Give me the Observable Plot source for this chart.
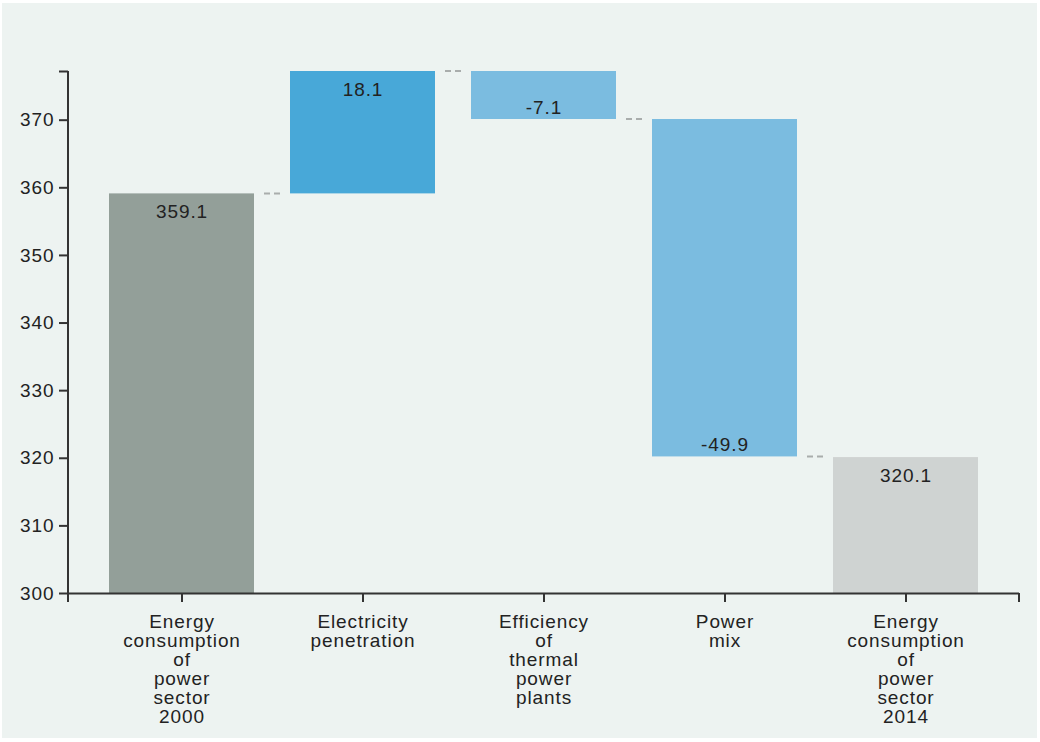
<!DOCTYPE html>
<html>
<head>
<meta charset="utf-8">
<script src="https://cdn.jsdelivr.net/npm/d3@7"></script>
<script src="https://cdn.jsdelivr.net/npm/@observablehq/plot@0.6"></script>
<style>
  html, body { margin: 0; padding: 0; background: #ffffff; }
  #frame { position: absolute; left: 2px; top: 3px; width: 1035px; height: 735px; background: #edf3f1; }
  #frame svg { display: block; }
</style>
</head>
<body>
<div id="frame"></div>
<script>
// ---- data ----
const categories = [
  "Energy consumption of power sector 2000",
  "Electricity penetration",
  "Efficiency of thermal power plants",
  "Power mix",
  "Energy consumption of power sector 2014"
];
const values = [359.1, 18.1, -7.1, -49.9, 320.1];
const kinds = ["total2000", "increase", "decrease", "decrease", "total2014"];
const kindDomain = ["total2000", "increase", "decrease", "total2014"];
const kindColors = ["#939f99", "#48a8d8", "#7bbce0", "#cfd3d2"];
const yTicks = [300, 310, 320, 330, 340, 350, 360, 370];
const yMin = 300;

// ---- waterfall steps (cumulative) ----
let running = 0;
const steps = categories.map((name, i) => {
  const v = values[i];
  let start, end;
  if (kinds[i].startsWith("total")) { start = yMin; end = v; running = v; }
  else { start = running; end = running + v; running = end; }
  return { name, value: v, kind: kinds[i], start, end };
});
const yMax = d3.max(steps, d => d.end);

const ns = "http://www.w3.org/2000/svg";
function line(g, x1, y1, x2, y2, attrs) {
  const l = document.createElementNS(ns, "line");
  l.setAttribute("x1", x1); l.setAttribute("y1", y1);
  l.setAttribute("x2", x2); l.setAttribute("y2", y2);
  for (const k in attrs) l.setAttribute(k, attrs[k]);
  g.appendChild(l);
}

// dashed connectors between consecutive bars, positioned with Plot's scales
function connectors(index, scales) {
  const g = document.createElementNS(ns, "g");
  const x = scales.x, y = scales.y, bw = x.bandwidth();
  for (let i = 0; i < steps.length - 1; i++) {
    const right = x(steps[i].name) + bw;
    const left = x(steps[i + 1].name);
    const mid = (right + left) / 2;
    line(g, mid - 8, y(steps[i].end), mid + 8, y(steps[i].end),
      { stroke: "#a9adac", "stroke-width": 2, "stroke-dasharray": "6,4" });
  }
  return g;
}

// axis domain lines with outer ticks
function axisLines(index, scales, values, dims) {
  const g = document.createElementNS(ns, "g");
  const { marginLeft, marginRight, width } = dims;
  const y = scales.y;
  const attrs = { stroke: "#333333", "stroke-width": 2 };
  line(g, marginLeft, y(yMax), marginLeft, y(yMin) + 9, attrs);
  line(g, width - marginRight, y(yMin), width - marginRight, y(yMin) + 9, attrs);
  return g;
}

const chart = Plot.plot({
  width: 1035,
  height: 735,
  marginLeft: 66,
  marginTop: 68,
  marginBottom: 145,
  marginRight: 18,
  style: {
    background: "transparent",
    fontFamily: "'Liberation Sans', Arial, sans-serif",
    fontSize: "19px",
    letterSpacing: "0.9px",
    color: "#222222"
  },
  x: { domain: categories, paddingInner: 0.2, paddingOuter: 0.224, label: null },
  y: { domain: [yMin, yMax], label: null },
  color: { domain: kindDomain, range: kindColors },
  marks: [
    Plot.barY(steps, { x: "name", y1: "start", y2: "end", fill: "kind" }),
    Plot.text(steps.filter(d => d.value >= 0), {
      x: "name", y: "end", text: d => d.value.toFixed(1),
      lineAnchor: "top", dy: 11, fill: "#222222"
    }),
    Plot.text(steps.filter(d => d.value < 0), {
      x: "name", y: "end", text: d => d.value.toFixed(1),
      lineAnchor: "top", dy: -19, fill: "#222222"
    }),
    connectors,
    Plot.ruleY([yMin], { stroke: "#333333", strokeWidth: 2 }),
    axisLines,
    Plot.axisY({
      ticks: [...yTicks, yMax],
      tickFormat: d => yTicks.includes(d) ? String(d) : "",
      tickSize: 9, tickPadding: 5, stroke: "#333333", strokeWidth: 2, label: null
    }),
    Plot.axisX({
      tickSize: 9, tickPadding: 12, lineHeight: 1.0,
      tickFormat: d => d.split(" ").join("\n"),
      stroke: "#333333", strokeWidth: 2, label: null
    })
  ]
});
document.getElementById("frame").appendChild(chart);
</script>
</body>
</html>
